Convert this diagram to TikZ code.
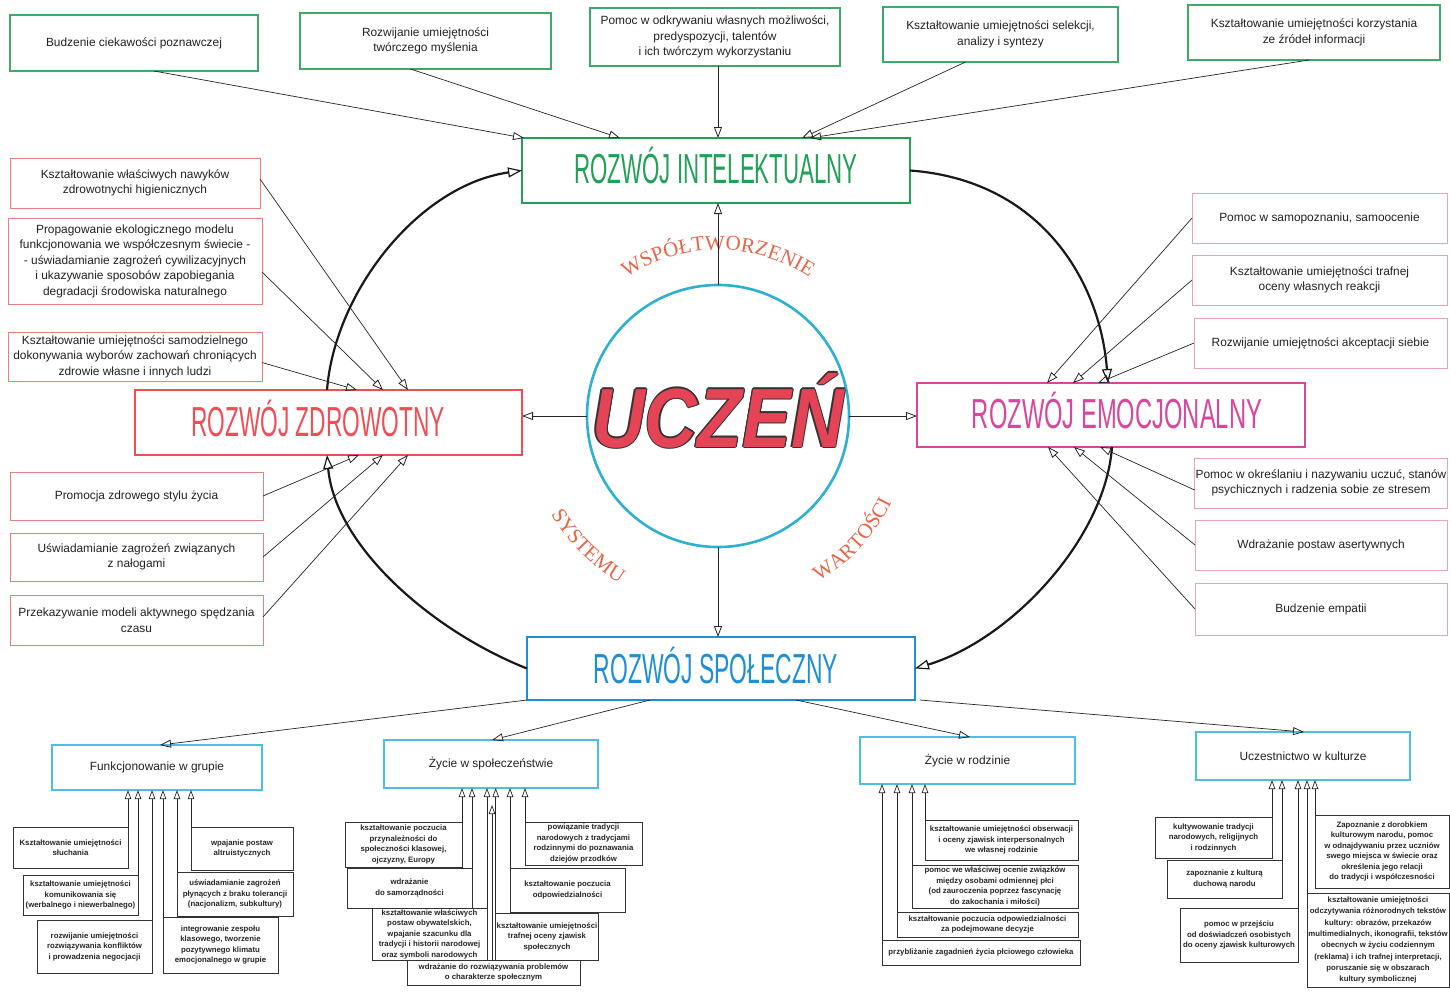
\documentclass[tikz,border=0pt]{standalone}
\usepackage{fontspec}
\usepackage{graphicx}
\setmainfont{Liberation Sans}
\newfontfamily\arcfont{Liberation Serif}
\usetikzlibrary{arrows.meta,decorations.text,calc}

\definecolor{cgreen}{HTML}{22A058}
\definecolor{cgreenl}{HTML}{3DAA6A}
\definecolor{cred}{HTML}{EE4E55}
\definecolor{credl}{HTML}{E88080}
\definecolor{cmag}{HTML}{D8479E}
\definecolor{cmagl}{HTML}{E8A3C3}
\definecolor{cblue}{HTML}{1E8FD5}
\definecolor{ccyan}{HTML}{4DBFE0}
\definecolor{ccirc}{HTML}{2EB0D2}
\definecolor{cuczen}{HTML}{E44455}
\definecolor{carc}{HTML}{E86648}
\definecolor{ctxt}{HTML}{222222}

\newcommand{\bigtitle}[2]{\scalebox{#1}[1]{\fontsize{42}{42}\selectfont #2}}
\newcommand{\uczentext}{\scalebox{0.87}[1]{\fontsize{84}{84}\selectfont\bfseries\itshape UCZEŃ}}

\begin{document}
\begin{tikzpicture}[x=1pt,y=-1pt,
 every node/.style={inner sep=1pt, outer sep=0pt},
 sz/.style 2 args={minimum width=#1pt, minimum height=#2pt},
 topbox/.style={draw=cgreenl, line width=1.1pt, fill=white, align=center, text=ctxt, font=\fontsize{11.9}{15.5}\selectfont},
 lbox/.style={draw=credl, line width=0.9pt, fill=white, align=center, text=ctxt, font=\fontsize{11.9}{15.5}\selectfont},
 rbox/.style={draw=cmagl, line width=0.9pt, fill=white, align=center, text=ctxt, font=\fontsize{11.9}{15.5}\selectfont},
 cbox/.style={draw=ccyan, line width=1.1pt, fill=white, align=center, text=ctxt, font=\fontsize{11.9}{15}\selectfont},
 sbox/.style={draw=black!80, line width=0.6pt, fill=white, align=center, text=black!85, font=\fontsize{7.8}{10.5}\selectfont\bfseries},
 mainbox/.style={line width=1.8pt, fill=white},
 arr/.style={draw=black!85, line width=0.7pt, -{Triangle[open, length=11pt, width=8pt, line width=0.8pt]}},
 sarr/.style={draw=black!85, line width=0.6pt, -{Triangle[open, length=9pt, width=6.5pt, line width=0.7pt]}},
 cyc/.style={draw=black!90, line width=2.2pt, -{Triangle[open, length=14pt, width=10pt, line width=1.2pt]}},
]
\useasboundingbox (0,0) rectangle (1450,997);
\fill[white] (0,0) rectangle (1450,997);

% ---------- main boxes ----------
\node[mainbox, draw=cgreen, sz={388}{65}] (INT) at (716,170.5) {};
\node[mainbox, draw=cred, sz={387}{65}] (ZD) at (328.5,422.5) {};
\node[mainbox, draw=cmag, sz={388}{64}] (EM) at (1111,415) {};
\node[mainbox, draw=cblue, sz={388}{63}] (SP) at (721,668.5) {};
\node[anchor=base, text=cgreen] (INTt) at (716,183) {\bigtitle{0.53}{ROZWÓJ INTELEKTUALNY}};
\node[anchor=base, text=cred] (ZDt) at (318,436) {\bigtitle{0.54}{ROZWÓJ ZDROWOTNY}};
\node[anchor=base, text=cmag] (EMt) at (1117,428) {\bigtitle{0.565}{ROZWÓJ EMOCJONALNY}};
\node[anchor=base, text=cblue] (SPt) at (716,683) {\bigtitle{0.545}{ROZWÓJ SPOŁECZNY}};

% ---------- centre ----------
\coordinate (C) at (718,416);
\node[circle, draw=ccirc, line width=2.6pt, minimum size=262pt] (circ) at (C) {};
\foreach \dx/\dy [count=\i] in {1.3/0,-1.3/0,0/1.3,0/-1.3,0.9/0.9,-0.9/0.9,0.9/-0.9,-0.9/-0.9}
  \node[anchor=base, text=black!80, name=uo\i] at ($(718,447)+(\dx,\dy)$) {\uczentext};
\node[anchor=base, text=cuczen] (U) at (718,447) {\uczentext};

\path[decorate, decoration={text along path, text align=center,
  text={|\arcfont\fontsize{21}{21}\selectfont\color{carc}|WSPÓŁTWORZENIE}}]
  ($(C)+(235:166)$) arc[start angle=235, end angle=305, radius=166];
\path[decorate, decoration={text along path, text align=center,
  text={|\arcfont\fontsize{21}{21}\selectfont\color{carc}|SYSTEMU}}]
  ($(C)+(156:194)$) arc[start angle=156, end angle=114, radius=194];
\path[decorate, decoration={text along path, text align=center,
  text={|\arcfont\fontsize{21}{21}\selectfont\color{carc}|WARTOŚCI}}]
  ($(C)+(65:194)$) arc[start angle=65, end angle=20, radius=194];

\draw[arr] (circ.north) -- (circ.north |- INT.south);
\draw[arr] (circ.west) -- (circ.west -| ZD.east);
\draw[arr] (circ.east) -- (circ.east -| EM.west);
\draw[arr] (circ.south) -- (circ.south |- SP.north);

% ---------- cycle ----------
\draw[cyc] (INT.east) .. controls (1040,180) and (1100,280) .. ($(EM.north)+(-3,0)$);
\draw[cyc] ($(EM.south)+(1,0)$) .. controls (1105,540) and (1010,640) .. (SP.east);
\draw[cyc] (SP.west) .. controls (430,630) and (335,545) .. ($(ZD.south)+(-1.5,0)$);
\draw[cyc] ($(ZD.north)+(-1.5,0)$) .. controls (335,290) and (420,185) .. (INT.west);

% ---------- top boxes ----------
\node[topbox, sz={248}{56}] (T1) at (134,43) {Budzenie ciekawości poznawczej};
\node[topbox, sz={251}{56}] (T2) at (425.5,41) {Rozwijanie umiejętności\\twórczego myślenia};
\node[topbox, sz={250}{58}] (T3) at (715,37) {Pomoc w odkrywaniu własnych możliwości,\\predyspozycji, talentów\\i ich twórczym wykorzystaniu};
\node[topbox, sz={235}{55}] (T4) at (1000.5,34.5) {Kształtowanie umiejętności selekcji,\\analizy i syntezy};
\node[topbox, sz={252}{55}] (T5) at (1314,32.5) {Kształtowanie umiejętności korzystania\\ze źródeł informacji};

\draw[arr] ($(T1.south)+(20,0)$) -- ($(INT.north west)+(2,0)$);
\draw[arr] ($(T2.south)+(-15,0)$) -- ($(INT.north west)+(98,0)$);
\draw[arr] (T3.south -| circ.north) -- (circ.north |- INT.north);
\draw[arr] ($(T4.south)+(-35,0)$) -- ($(INT.north west)+(280,0)$);
\draw[arr] ($(T5.south)+(-5,0)$) -- ($(INT.north west)+(288,0)$);

% ---------- left boxes ----------
\node[lbox, sz={250}{50}] (L1) at (135,183) {Kształtowanie właściwych nawyków\\zdrowotnychi higienicznych};
\node[lbox, sz={254}{86}] (L2) at (135,261) {Propagowanie ekologicznego modelu\\funkcjonowania we współczesnym świecie -\\- uświadamianie zagrożeń cywilizacyjnych\\i ukazywanie sposobów zapobiegania\\degradacji środowiska naturalnego};
\node[lbox, sz={254}{49}] (L3) at (135,356.5) {Kształtowanie umiejętności samodzielnego\\dokonywania wyborów zachowań chroniących\\zdrowie własne i innych ludzi};
\node[lbox, sz={253}{48}] (L4) at (136.5,496) {Promocja zdrowego stylu życia};
\node[lbox, sz={253}{48}] (L5) at (136.5,557) {Uświadamianie zagrożeń związanych\\z nałogami};
\node[lbox, sz={253}{50}] (L6) at (136.5,620) {Przekazywanie modeli aktywnego spędzania\\czasu};

\draw[arr] ($(L1.east)+(0,-4)$) -- ($(ZD.north west)+(273,0)$);
\draw[arr] ($(L2.east)+(0,11)$) -- ($(ZD.north west)+(248,0)$);
\draw[arr] ($(L3.east)+(0,6)$) -- ($(ZD.north west)+(222,0)$);
\draw[arr] (L4.east) -- ($(ZD.south west)+(224,0)$);
\draw[arr] (L5.east) -- ($(ZD.south west)+(248,0)$);
\draw[arr] ($(L6.east)+(0,-3)$) -- ($(ZD.south west)+(273,0)$);

% ---------- right boxes ----------
\node[rbox, sz={255}{50}] (R1) at (1319.5,218) {Pomoc w samopoznaniu, samoocenie};
\node[rbox, sz={255}{50}] (R2) at (1319.5,280) {Kształtowanie umiejętności trafnej\\oceny własnych reakcji};
\node[rbox, sz={253}{50}] (R3) at (1320.5,343) {Rozwijanie umiejętności akceptacji siebie};
\node[rbox, sz={252}{50}] (R4) at (1321,483) {Pomoc w określaniu i nazywaniu uczuć, stanów\\psychicznych i radzenia sobie ze stresem};
\node[rbox, sz={252}{50}] (R5) at (1321,545) {Wdrażanie postaw asertywnych};
\node[rbox, sz={252}{52}] (R6) at (1321,609) {Budzenie empatii};

\draw[arr] (R1.west) -- ($(EM.north west)+(130,0)$);
\draw[arr] (R2.west) -- ($(EM.north west)+(156,0)$);
\draw[arr] (R3.west) -- ($(EM.north west)+(181,0)$);
\draw[arr] ($(R4.west)+(0,7)$) -- ($(EM.south west)+(183,0)$);
\draw[arr] (R5.west) -- ($(EM.south west)+(157,0)$);
\draw[arr] (R6.west) -- ($(EM.south west)+(131,0)$);

% ---------- bottom categories ----------
\node[cbox, sz={210}{45}] (B1) at (157,767.5) {Funkcjonowanie w grupie};
\node[cbox, sz={214}{48}] (B2) at (491,764) {Życie w społeczeństwie};
\node[cbox, sz={215}{47}] (B3) at (967.5,760.5) {Życie w rodzinie};
\node[cbox, sz={214}{48}] (B4) at (1303,756) {Uczestnictwo w kulturze};

\draw[arr] (SP.south west) -- ($(B1.north west)+(108,0)$);
\draw[arr] ($(SP.south west)+(123,0)$) -- ($(B2.north west)+(108,0)$);
\draw[arr] ($(SP.south east)+(-119,0)$) -- ($(B3.north west)+(110,0)$);
\draw[arr] ($(SP.south east)+(5,0)$) -- ($(B4.north west)+(108,0)$);

% ---------- sub boxes: Funkcjonowanie w grupie ----------
\node[sbox, sz={115}{41}] (a1) at (70.5,847.5) {Kształtowanie umiejętności\\słuchania};
\node[sbox, sz={115}{40}] (a2) at (80.5,895) {kształtowanie umiejętności\\komunikowania się\\(werbalnego i niewerbalnego)};
\node[sbox, sz={115}{53}] (a3) at (94.5,946.5) {rozwijanie umiejętności\\rozwiązywania konfliktów\\i prowadzenia negocjacji};
\node[sbox, sz={115}{56}] (a4) at (220.5,945) {integrowanie zespołu\\klasowego, tworzenie\\pozytywnego klimatu\\emocjonalnego w grupie};
\node[sbox, sz={116}{44}] (a5) at (235,894) {uświadamianie zagrożeń\\płynących z braku tolerancji\\(nacjonalizm, subkultury)};
\node[sbox, sz={102}{43}] (a6) at (242,848.5) {wpajanie postaw\\altruistycznych};
\foreach \n/\a in {a1/north east,a2/north east,a3/north east,a4/north west,a5/north west,a6/north west}
  \draw[sarr] (\n.\a) -- (\n.\a |- B1.south);

% ---------- sub boxes: Zycie w spoleczenstwie ----------
\node[sbox, sz={117}{45}] (b1) at (403.5,844.5) {kształtowanie poczucia\\przynależności do\\społeczności klasowej,\\ojczyzny, Europy};
\node[sbox, sz={125}{40}] (b2) at (409.5,888) {wdrażanie\\do samorządności};
\node[sbox, sz={115}{52}] (b3) at (429.5,934) {kształtowanie właściwych\\postaw obywatelskich,\\wpajanie szacunku dla\\tradycji i historii narodowej\\oraz symboli narodowych};
\node[sbox, sz={173}{25}] (b4) at (493.5,972.5) {wdrażanie do rozwiązywania problemów\\o charakterze społecznym};
\node[sbox, sz={100}{47}] (b5) at (547,936.5) {kształtowanie umiejętności\\trafnej oceny zjawisk\\społecznych};
\node[sbox, sz={115}{44}] (b6) at (567.5,890) {kształtowanie poczucia\\odpowiedzialności};
\node[sbox, sz={117}{43}] (b7) at (583.5,843.5) {powiązanie tradycji\\narodowych z tradycjami\\rodzinnymi do poznawania\\dziejów przodków};
\foreach \n/\a in {b1/north east,b2/north east,b3/north east,b5/north west,b6/north west,b7/north west}
  \draw[sarr] (\n.\a) -- (\n.\a |- B2.south);
\coordinate (b4tip) at (492,805);
\draw[sarr] (b4.north -| b4tip) -- (b4tip);

% ---------- sub boxes: Zycie w rodzinie ----------
\node[sbox, sz={153}{40}] (c1) at (1001.5,840) {kształtowanie umiejętności obserwacji\\i oceny zjawisk interpersonalnych\\we własnej rodzinie};
\node[sbox, sz={166}{43}] (c2) at (995,886.5) {pomoc we właściwej ocenie związków\\między osobami odmiennej płci\\(od zauroczenia poprzez fascynację\\do zakochania i miłości)};
\node[sbox, sz={181}{25}] (c3) at (987.5,924.5) {kształtowanie poczucia odpowiedzialności\\za podejmowane decyzje};
\node[sbox, sz={198}{25}] (c4) at (981,952.5) {przybliżanie zagadnień życia płciowego człowieka};
\foreach \n in {c1,c2,c3,c4}
  \draw[sarr] (\n.north west) -- (\n.north west |- B3.south);

% ---------- sub boxes: Uczestnictwo w kulturze ----------
\node[sbox, sz={117}{41}] (d1) at (1213.5,837.5) {kultywowanie tradycji\\narodowych, religijnych\\i rodzinnych};
\node[sbox, sz={115}{38}] (d2) at (1224.5,879) {zapoznanie z kulturą\\duchową narodu};
\node[sbox, sz={118}{54}] (d3) at (1239,935) {pomoc w przejściu\\od doświadczeń osobistych\\do oceny zjawisk kulturowych};
\node[sbox, sz={142}{94}, font=\fontsize{7.8}{11.3}\selectfont\bfseries] (d4) at (1378,940) {kształtowanie umiejętności\\odczytywania różnorodnych tekstów\\kultury: obrazów, przekazów\\multimedialnych, ikonografii, tekstów\\obecnych w życiu codziennym\\(reklama) i ich trafnej interpretacji,\\poruszanie się w obszarach\\kultury symbolicznej};
\node[sbox, sz={134}{73}] (d5) at (1382,851.5) {Zapoznanie z dorobkiem\\kulturowym narodu, pomoc\\w odnajdywaniu przez uczniów\\swego miejsca w świecie oraz\\określenia jego relacji\\do tradycji i współczesności};
\foreach \n/\a in {d1/north east,d2/north east,d3/north east,d4/north west,d5/north west}
  \draw[sarr] (\n.\a) -- (\n.\a |- B4.south);
\end{tikzpicture}
\end{document}
